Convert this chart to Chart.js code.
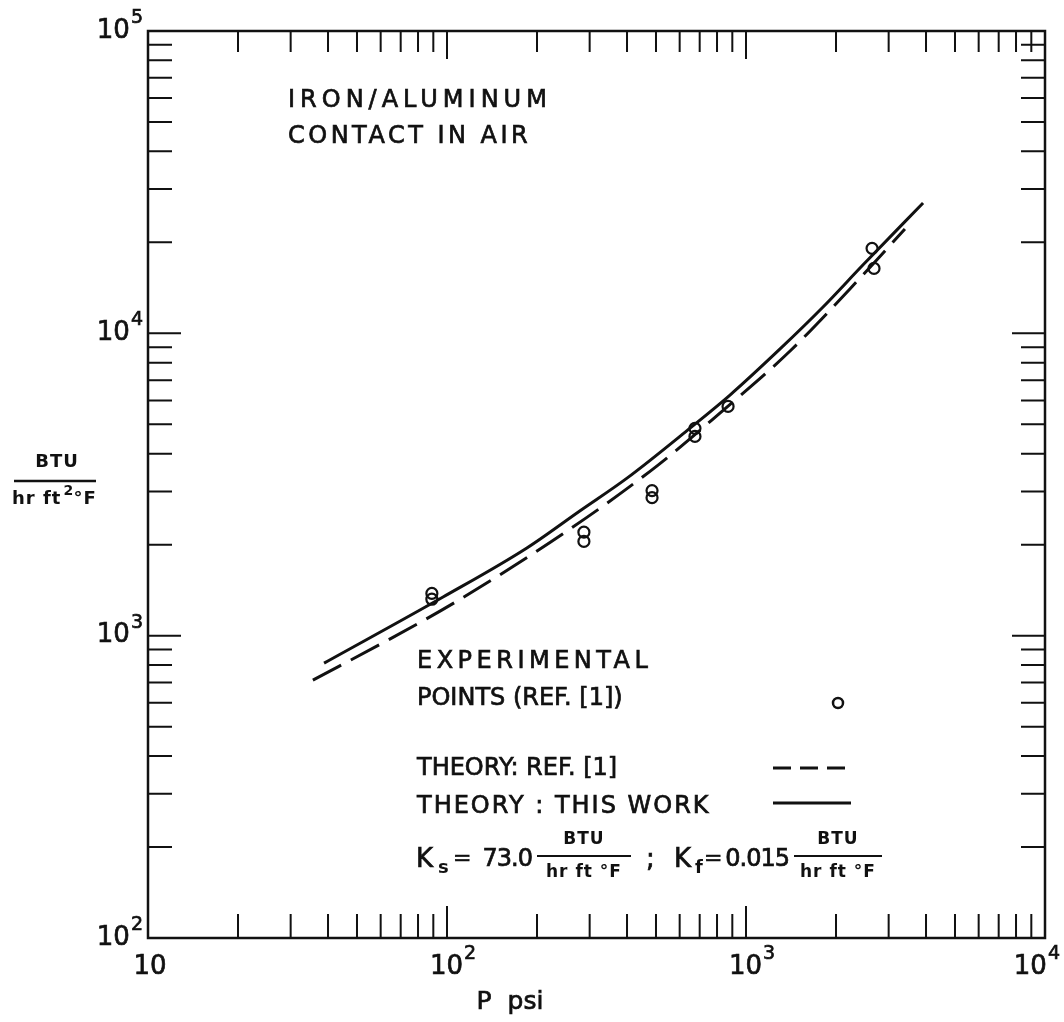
<!DOCTYPE html>
<html>
<head>
<meta charset="utf-8">
<script src="https://cdn.jsdelivr.net/npm/chart.js@4.4.1/dist/chart.umd.min.js"></script>
<style>
  html, body { margin: 0; padding: 0; background: #fff; }
  #wrap { width: 1064px; height: 1022px; }
</style>
</head>
<body>
<div id="wrap"><canvas id="chart" width="1064" height="1022"></canvas></div>
<script>
// pressure (psi) and conductance (BTU / hr ft2 F)
const expP   = [89, 89, 287, 287, 485, 485, 675, 675, 871, 2640, 2680];
const expH   = [1380, 1320, 2200, 2050, 3020, 2860, 4850, 4560, 5730, 19100, 16400];

const thisWorkP = [38.8, 97, 185, 278, 400, 650, 884, 1300, 1810, 2460, 3910];
const thisWorkH = [811, 1342, 1950, 2585, 3320, 4860, 6250, 8880, 12220, 16820, 26980];

const refP = [35.6, 63.5, 108, 252, 508, 818, 1404, 2460, 3400];
const refH = [713, 967, 1301, 2218, 3667, 5449, 8740, 15590, 22130];

const xDecades = [1, 2, 3, 4];   // 10 .. 10^4
const yDecades = [2, 3, 4, 5];   // 10^2 .. 10^5

const INK = '#111';
const FONT = '"DejaVu Sans", sans-serif';

function toPts(xs, ys) {
    return xs.map((x, i) => ({ x: x, y: ys[i] }));
}

function txt(ctx, s, x, y, size, opts = {}) {
    ctx.save();
    ctx.font = (opts.bold ? 'bold ' : '') + size + 'px ' + FONT;
    ctx.letterSpacing = (opts.sp || 0) + 'px';
    ctx.textAlign = opts.align || 'left';
    ctx.textBaseline = opts.base || 'middle';
    ctx.fillStyle = INK;
    ctx.fillText(s, x, y);
    if (!opts.bold) {
        // thicken the strokes a little, the original is pen lettering
        ctx.strokeStyle = INK;
        ctx.lineWidth = 0.7;
        ctx.strokeText(s, x, y);
    }
    const w = ctx.measureText(s).width;
    ctx.restore();
    return w;
}

// "10" with a raised exponent
function pow10(ctx, exp, cx, cy, align) {
    ctx.save();
    ctx.font = '26px ' + FONT;
    const wb = ctx.measureText('10').width;
    ctx.font = '19px ' + FONT;
    const we = ctx.measureText(String(exp)).width;
    ctx.restore();
    const total = wb + we + 1;
    let x0 = cx - total / 2;
    if (align === 'right') x0 = cx - total;
    txt(ctx, '10', x0, cy, 26);
    txt(ctx, String(exp), x0 + wb + 1, cy - 13, 19);
}

function fraction(ctx, cx, y, w) {
    txt(ctx, 'BTU', cx, y - 16, 17, { align: 'center', bold: true, sp: 1 });
    ctx.save();
    ctx.strokeStyle = INK;
    ctx.lineWidth = 2;
    ctx.beginPath();
    ctx.moveTo(cx - w / 2, y);
    ctx.lineTo(cx + w / 2, y);
    ctx.stroke();
    ctx.restore();
    txt(ctx, 'hr ft °F', cx, y + 17, 17, { align: 'center', bold: true, sp: 1 });
}

const decorations = {
    id: 'decorations',
    afterDraw(chart) {
        const ctx = chart.ctx;
        const a = chart.chartArea;
        const xs = chart.scales.x;
        const ys = chart.scales.y;

        ctx.save();
        ctx.strokeStyle = INK;
        ctx.lineWidth = 2.5;
        ctx.strokeRect(a.left, a.top, a.right - a.left, a.bottom - a.top);

        // inward tick marks on all four sides
        ctx.lineWidth = 2;
        ctx.beginPath();
        for (let d = 1; d < 4; d++) {
            for (let m = 1; m <= 9; m++) {
                if (m === 1 && d === 1) continue;
                const px = xs.getPixelForValue(m * Math.pow(10, d));
                const len = m === 1 ? 32 : 24;
                ctx.moveTo(px, a.bottom); ctx.lineTo(px, a.bottom - len);
                ctx.moveTo(px, a.top); ctx.lineTo(px, a.top + (m === 1 ? 28 : 21));
            }
        }
        for (let d = 2; d < 5; d++) {
            for (let m = 1; m <= 9; m++) {
                if (m === 1 && d === 2) continue;
                const py = ys.getPixelForValue(m * Math.pow(10, d));
                const len = m === 1 ? 33 : 24;
                ctx.moveTo(a.left, py); ctx.lineTo(a.left + len, py);
                ctx.moveTo(a.right, py); ctx.lineTo(a.right - len, py);
            }
        }
        ctx.stroke();
        ctx.restore();

        // axis labels
        yDecades.forEach(d => {
            pow10(ctx, d, a.left - 5, ys.getPixelForValue(Math.pow(10, d)), 'right');
        });
        xDecades.forEach(d => {
            const px = xs.getPixelForValue(Math.pow(10, d));
            if (d === 1) {
                txt(ctx, '10', px + 2, 967, 26, { align: 'center' });
            } else if (d === 4) {
                pow10(ctx, d, 1060, 967, 'right');
            } else {
                pow10(ctx, d, px + 6, 967);
            }
        });
        txt(ctx, 'P  psi', 510, 1002, 25, { align: 'center' });

        // y axis title as a fraction
        txt(ctx, 'BTU', 57, 462, 18, { align: 'center', bold: true, sp: 1 });
        ctx.save();
        ctx.strokeStyle = INK;
        ctx.lineWidth = 2.5;
        ctx.beginPath();
        ctx.moveTo(14, 481); ctx.lineTo(96, 481);
        ctx.stroke();
        ctx.restore();
        const wh = txt(ctx, 'hr ft', 12, 499, 18, { bold: true, sp: 1 });
        txt(ctx, '2', 12 + wh + 2, 491, 14, { bold: true });
        txt(ctx, '°F', 12 + wh + 12, 499, 18, { bold: true, sp: 1 });

        // annotation
        txt(ctx, 'IRON/ALUMINUM', 288, 101, 24, { sp: 5 });
        txt(ctx, 'CONTACT IN AIR', 288, 137, 24, { sp: 3.5 });

        // legend block
        txt(ctx, 'EXPERIMENTAL', 417, 662, 24, { sp: 4.5 });
        txt(ctx, 'POINTS (REF. [1])', 417, 699, 24, { sp: 0 });
        txt(ctx, 'THEORY: REF. [1]', 417, 769, 24, { sp: 0 });
        txt(ctx, 'THEORY : THIS WORK', 417, 807, 24, { sp: 2 });

        ctx.save();
        ctx.strokeStyle = INK;
        ctx.lineWidth = 2.5;
        ctx.beginPath();
        ctx.arc(838, 703, 5, 0, Math.PI * 2);
        ctx.stroke();
        ctx.lineWidth = 3;
        ctx.setLineDash([18, 9]);
        ctx.beginPath();
        ctx.moveTo(773, 768); ctx.lineTo(853, 768);
        ctx.stroke();
        ctx.setLineDash([]);
        ctx.beginPath();
        ctx.moveTo(773, 803); ctx.lineTo(851, 803);
        ctx.stroke();
        ctx.restore();

        // conductivities
        txt(ctx, 'K', 416, 860, 26);
        txt(ctx, 's', 438, 868, 18, { bold: true });
        txt(ctx, '=', 453, 859, 22);
        txt(ctx, '73.0', 532, 860, 24, { align: 'right', sp: -1 });
        fraction(ctx, 584, 856, 94);
        txt(ctx, ';', 646, 860, 26);
        txt(ctx, 'K', 674, 860, 26);
        txt(ctx, 'f', 695, 868, 18, { bold: true });
        txt(ctx, '=', 704, 859, 22);
        txt(ctx, '0.015', 789, 860, 24, { align: 'right', sp: -1 });
        fraction(ctx, 838, 856, 88);
    }
};

new Chart(document.getElementById('chart'), {
    type: 'scatter',
    data: {
        datasets: [
            {
                label: 'Theory: this work',
                data: toPts(thisWorkP, thisWorkH),
                showLine: true,
                borderColor: INK,
                borderWidth: 3,
                pointRadius: 0,
                cubicInterpolationMode: 'monotone'
            },
            {
                label: 'Theory: Ref. [1]',
                data: toPts(refP, refH),
                showLine: true,
                borderColor: INK,
                borderWidth: 3,
                borderDash: [32, 11],
                pointRadius: 0,
                cubicInterpolationMode: 'monotone'
            },
            {
                label: 'Experimental points (Ref. [1])',
                data: toPts(expP, expH),
                showLine: false,
                pointStyle: 'circle',
                pointRadius: 5.5,
                pointBorderWidth: 2.2,
                pointBorderColor: INK,
                pointBackgroundColor: 'rgba(255,255,255,0)'
            }
        ]
    },
    options: {
        responsive: false,
        animation: false,
        layout: { padding: { left: 148, right: 19, top: 31, bottom: 84 } },
        plugins: {
            legend: { display: false },
            tooltip: { enabled: false }
        },
        scales: {
            x: { type: 'logarithmic', min: 10, max: 10000, display: false },
            y: { type: 'logarithmic', min: 100, max: 100000, display: false }
        }
    },
    plugins: [decorations]
});
</script>
</body>
</html>
